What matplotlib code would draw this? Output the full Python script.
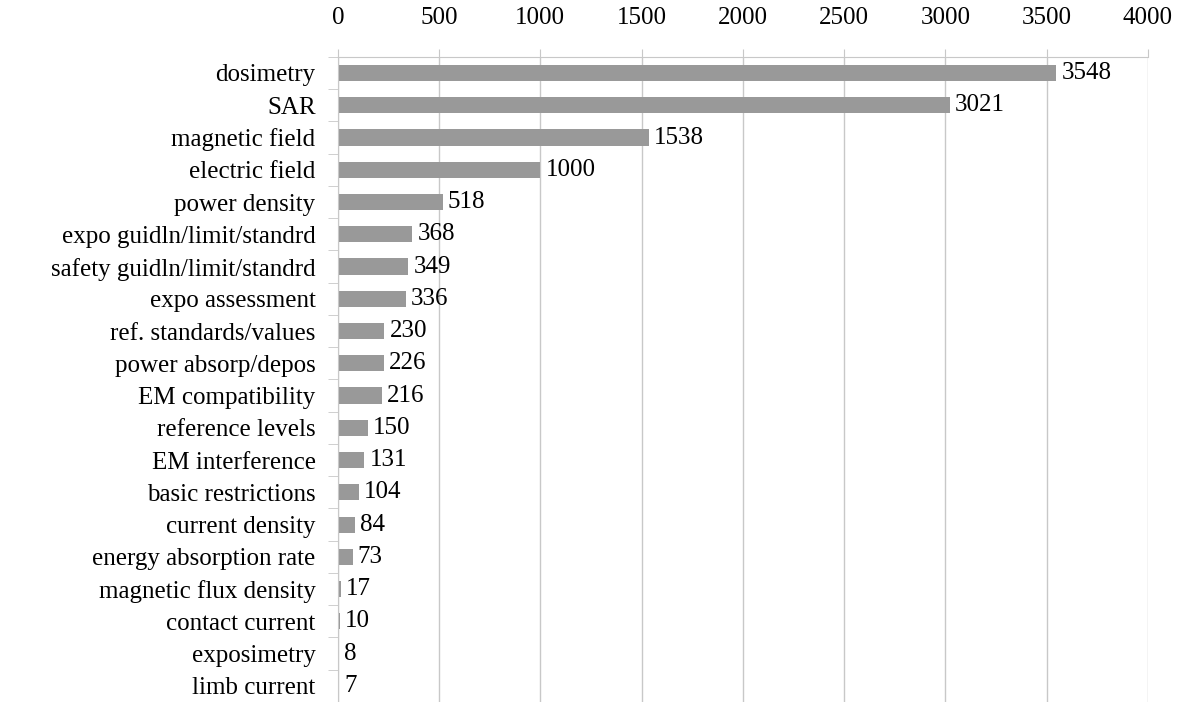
import matplotlib.pyplot as plt
import numpy as np

categories = ["dosimetry", "SAR", "magnetic field", "electric field", "power density",
              "expo guidln/limit/standrd", "safety guidln/limit/standrd", "expo assessment",
              "ref. standards/values", "power absorp/depos", "EM compatibility",
              "reference levels", "EM interference", "basic restrictions", "current density",
              "energy absorption rate", "magnetic flux density", "contact current",
              "exposimetry", "limb current"]
counts = [3548, 3021, 1538, 1000, 518, 368, 349, 336, 230, 226, 216, 150, 131, 104, 84,
          73, 17, 10, 8, 7]
x_ticks = [0, 500, 1000, 1500, 2000, 2500, 3000, 3500, 4000]

plt.rcParams['font.family'] = ['Liberation Serif', 'DejaVu Serif']
grid_col = '#c8c8c8'
fs = 18

fig = plt.figure(figsize=(11.81, 7.02), dpi=100)
ax = fig.add_axes([0.286, 0.0, 0.686, 0.919])

y = np.arange(len(categories))
ax.barh(y, counts, height=0.5, color='#999999', zorder=2)
for yi, v in zip(y, counts):
    ax.text(v + 25, yi, str(v), va='center', ha='left', fontsize=fs)

ax.set_ylim(len(categories) - 0.5, -0.5)
ax.set_xlim(0, 4000)
ax.set_xticks(x_ticks)
ax.xaxis.tick_top()
ax.tick_params(axis='x', labelsize=fs, length=6, color=grid_col, pad=14)
ax.set_yticks(y)
ax.set_yticklabels(categories)
ax.set_yticks(np.arange(len(categories) + 1) - 0.5, minor=True)
ax.tick_params(axis='y', which='major', length=0, labelsize=fs, pad=16)
ax.tick_params(axis='y', which='minor', length=7, color=grid_col)
ax.grid(axis='x', color=grid_col, linewidth=1, zorder=0)
ax.set_axisbelow(True)
for side in ['right', 'bottom']:
    ax.spines[side].set_visible(False)
for side in ['top', 'left']:
    ax.spines[side].set_color(grid_col)

fig.savefig('out.png', dpi=100)
